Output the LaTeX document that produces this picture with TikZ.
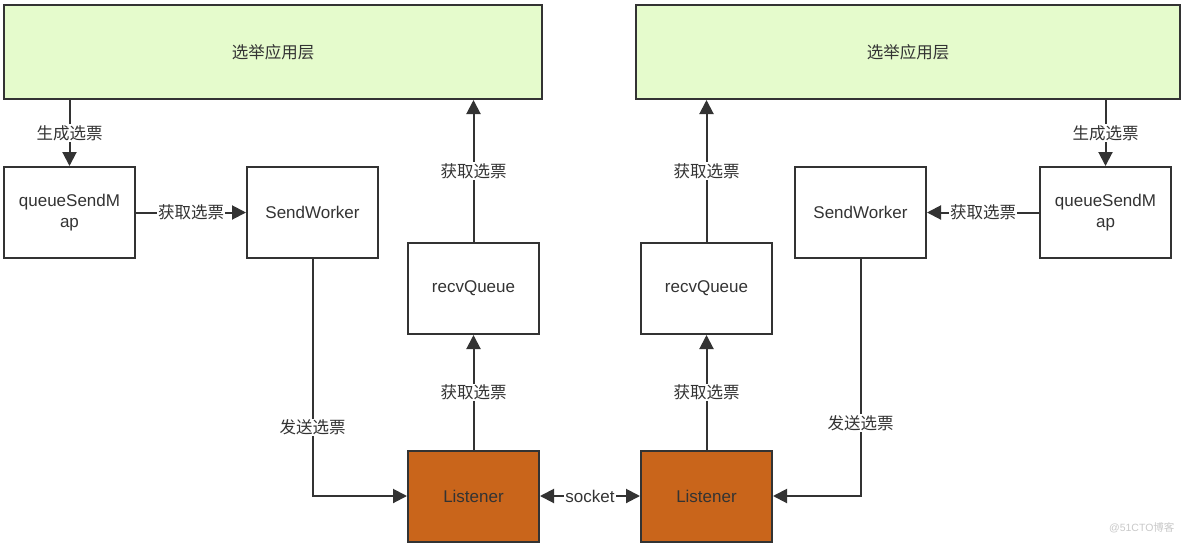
\documentclass[tikz,border=0pt]{standalone}
\usepackage{fontspec}
\setmainfont{Liberation Sans}
\newfontfamily\cjk{Noto Sans CJK SC}
\usetikzlibrary{arrows.meta}
\definecolor{ln}{HTML}{333333}
\definecolor{appgreen}{HTML}{E5FBCC}
\definecolor{lisorange}{HTML}{C9651B}
\definecolor{wm}{HTML}{C8C8C8}
\begin{document}
\begin{tikzpicture}[x=1pt,y=-1pt,
  box/.style={draw=ln, line width=2pt, minimum width=131pt, minimum height=91pt, inner sep=0pt, font=\fontsize{17}{21}\selectfont, text=ln, align=center},
  app/.style={box, fill=appgreen, minimum height=94pt, font=\cjk\fontsize{16.5}{20}\selectfont},
  lis/.style={box, fill=lisorange},
  tip/.style={Triangle[length=14pt,width=14pt]},
  conn/.style={draw=ln, line width=2pt, -{Triangle[length=14pt,width=14pt]}},
  lab/.style={fill=white, inner sep=1pt, text=ln, font=\cjk\fontsize{16.5}{20}\selectfont}]
\useasboundingbox (0,0) rectangle (1184,542);
% boxes
\node[app, minimum width=538pt] (appL) at (273,52) {选举应用层};
\node[app, minimum width=544pt] (appR) at (908,52) {选举应用层};
\node[box] (qL) at (69.5,212.5) {queueSendM\\ap};
\node[box] (sL) at (312.5,212.5) {SendWorker};
\node[box] (rL) at (473.5,288.5) {recvQueue};
\node[lis] (lL) at (473.5,496) {Listener};
\node[lis] (lR) at (706.5,496) {Listener};
\node[box] (rR) at (706.5,288.5) {recvQueue};
\node[box] (sR) at (860.5,212.5) {SendWorker};
\node[box] (qR) at (1105.5,212.5) {queueSendM\\ap};
% left side connectors
\draw[conn] (appL.south -| qL.north) -- (qL.north) node[lab, midway] {生成选票};
\draw[conn] (qL.east) -- (sL.west) node[lab, midway] {获取选票};
\draw[conn] (sL.south) |- (lL.west) node[lab, pos=0.355] {发送选票};
\draw[conn] (lL.north) -- (rL.south) node[lab, midway] {获取选票};
\draw[conn] (rL.north) -- (rL.north |- appL.south) node[lab, midway] {获取选票};
% right side connectors
\draw[conn] (appR.south -| qR.north) -- (qR.north) node[lab, midway] {生成选票};
\draw[conn] (qR.west) -- (sR.east) node[lab, midway] {获取选票};
\draw[conn] (sR.south) |- (lR.east) node[lab, pos=0.346] {发送选票};
\draw[conn] (lR.north) -- (rR.south) node[lab, midway] {获取选票};
\draw[conn] (rR.north) -- (rR.north |- appR.south) node[lab, midway] {获取选票};
% socket
\draw[draw=ln, line width=2pt, {Triangle[length=14pt,width=14pt]}-{Triangle[length=14pt,width=14pt]}] (lL.east) -- (lR.west) node[midway, fill=white, inner sep=1pt, text=ln, font=\fontsize{17}{21}\selectfont] {socket};
% watermark
\node[text=wm, font=\fontsize{10.5}{12}\selectfont, anchor=east] (wmk) at (1178,528) {@51CTO{\cjk 博客}};
\end{tikzpicture}
\end{document}
